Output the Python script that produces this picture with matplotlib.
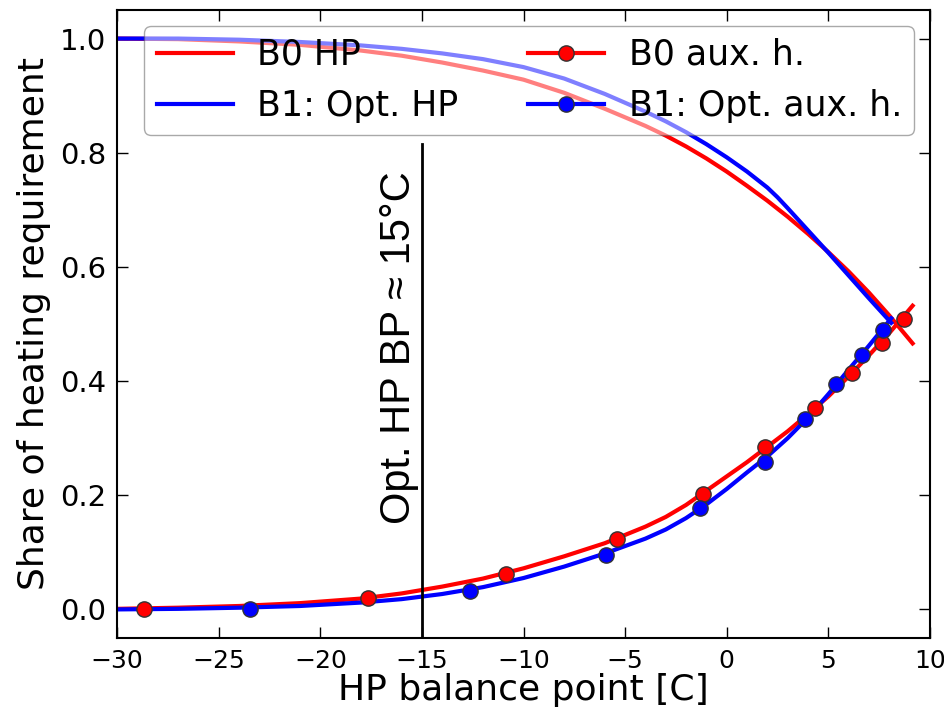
import matplotlib
matplotlib.use('Agg')
import matplotlib.pyplot as plt
from matplotlib.lines import Line2D

# curves
x_b0 = [-30, -27, -24, -21, -18, -16, -14, -12, -10, -8, -6, -4, -3, -2, -1,
        0, 1, 2, 3, 4, 5, 6, 7, 8, 9.15]
b0_hp = [1.0, 0.999, 0.995, 0.989, 0.979, 0.970, 0.958, 0.944, 0.928, 0.905, 0.877,
         0.847, 0.83, 0.811, 0.79, 0.767, 0.742, 0.716, 0.688, 0.658, 0.626, 0.592,
         0.555, 0.515, 0.466]
b0_aux = [0.001, 0.003, 0.006, 0.011, 0.019, 0.028, 0.040, 0.054, 0.072, 0.093,
          0.116, 0.145, 0.162, 0.183, 0.208, 0.233, 0.258, 0.285, 0.312, 0.342,
          0.373, 0.408, 0.445, 0.484, 0.532]

x_b1 = [-30, -27, -24, -21, -18, -16, -14, -12, -10, -8, -6, -4, -3, -2, -1,
        0, 1, 2, 2.5, 3, 4, 5, 6, 7, 8.1]
b1_hp = [1.0, 1.0, 0.998, 0.994, 0.988, 0.982, 0.974, 0.964, 0.95, 0.93, 0.903,
         0.872, 0.855, 0.836, 0.815, 0.792, 0.767, 0.739, 0.722, 0.703, 0.664,
         0.625, 0.585, 0.545, 0.502]
b1_aux = [0.0, 0.001, 0.003, 0.006, 0.012, 0.018, 0.027, 0.039, 0.055, 0.075,
          0.098, 0.124, 0.140, 0.160, 0.184, 0.211, 0.24, 0.268, 0.284, 0.30,
          0.336, 0.377, 0.42, 0.462, 0.51]

# simulated points
pts_b0_x = [-28.7, -17.65, -10.85, -5.38, -1.18, 1.87, 4.33, 6.15, 7.63, 8.71]
pts_b0_y = [0.0, 0.02, 0.062, 0.124, 0.203, 0.284, 0.352, 0.415, 0.466, 0.508]
pts_b1_x = [-23.46, -12.64, -5.93, -1.32, 1.87, 3.84, 5.37, 6.65, 7.68]
pts_b1_y = [0.0, 0.032, 0.095, 0.177, 0.259, 0.333, 0.394, 0.445, 0.489]

opt_bp = -15

fig = plt.figure(figsize=(9.45, 7.16), dpi=100)
ax = fig.add_axes([0.124, 0.109, 0.86, 0.877])

lw = 3
ms = 11
ax.plot(x_b0, b0_hp, color='r', lw=lw)
ax.plot(x_b1, b1_hp, color='b', lw=lw)
ax.plot(x_b0, b0_aux, color='r', lw=lw)
ax.plot(x_b1, b1_aux, color='b', lw=lw)
ax.plot(pts_b0_x, pts_b0_y, ls='none', marker='o', ms=ms, mfc='r', mec='#333333', mew=1)
ax.plot(pts_b1_x, pts_b1_y, ls='none', marker='o', ms=ms, mfc='b', mec='#333333', mew=1)

# optimum balance point marker
ax.plot([opt_bp, opt_bp], [-0.05, 0.815], color='k', lw=2)
ax.text(opt_bp - 0.15, 0.15, 'Opt. HP BP \u2248 15\u00b0C', rotation=90,
        ha='right', va='bottom', fontsize=30, family='Liberation Sans')

ax.set_xlim(-30, 10)
ax.set_ylim(-0.05, 1.05)
ax.set_xticks(range(-30, 11, 5))
ax.set_yticks([0.0, 0.2, 0.4, 0.6, 0.8, 1.0])
ax.tick_params(direction='in', top=True, right=True, length=8, width=1, pad=8)
ax.tick_params(axis='x', labelsize=18)
ax.tick_params(axis='y', labelsize=21)
for s in ax.spines.values():
    s.set_linewidth(1.5)
ax.set_xlabel('HP balance point [C]', fontsize=26, labelpad=0)
ax.set_ylabel('Share of heating requirement', fontsize=26, labelpad=6)

handles = [
    Line2D([], [], color='r', lw=lw),
    Line2D([], [], color='b', lw=lw),
    Line2D([], [], color='r', lw=lw, marker='o', ms=ms, mfc='r', mec='#333333'),
    Line2D([], [], color='b', lw=lw, marker='o', ms=ms, mfc='b', mec='#333333'),
]
labels = ['B0 HP', 'B1: Opt. HP', 'B0 aux. h.', 'B1: Opt. aux. h.']
leg = ax.legend(handles, labels, ncol=2, loc='upper right', fontsize=25,
                framealpha=0.5, fancybox=True, handlelength=2.2,
                handletextpad=0.7, columnspacing=2.0, borderaxespad=0.45,
                borderpad=0.35, labelspacing=0.5)
leg.get_frame().set_edgecolor('#555555')

fig.savefig('out.png', dpi=100)
